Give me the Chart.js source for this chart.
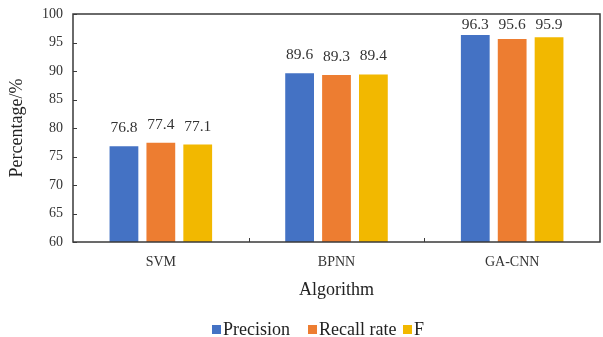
<!DOCTYPE html>
<html><head><meta charset="utf-8">
<script src="https://cdn.jsdelivr.net/npm/chart.js@4/dist/chart.umd.min.js"></script>
<style>html,body{margin:0;padding:0;background:#fff}#w{width:603px;height:337px}</style>
</head><body><div id="w"><canvas id="c"></canvas></div>
<script>
const categories = ["SVM", "BPNN", "GA-CNN"];
const precision = [76.8, 89.6, 96.3];
const recallRate = [77.4, 89.3, 95.6];
const fScore = [77.1, 89.4, 95.9];
const yTicks = [60, 65, 70, 75, 80, 85, 90, 95, 100];
const seriesNames = ["Precision", "Recall rate", "F"];
const colors = ["#4472C4", "#ED7D31", "#F2B800"];
const FONT = "'Liberation Serif','Times New Roman',serif";

const labelPlugin = {
  id: 'vals',
  afterDatasetsDraw(chart) {
    const ctx = chart.ctx, a = chart.chartArea;
    ctx.save();
    ctx.font = "15.5px " + FONT;
    ctx.fillStyle = "#333";
    ctx.textAlign = "center";
    ctx.textBaseline = "middle";
    chart.data.datasets.forEach((ds, i) => {
      chart.getDatasetMeta(i).data.forEach((bar, j) => {
        const y = Math.max(bar.y - 18, a.top + 11);
        ctx.fillText(ds.data[j].toFixed(1), bar.x, y);
      });
    });
    ctx.restore();
  }
};
const framePlugin = {
  id: 'frame',
  afterDraw(chart) {
    const ctx = chart.ctx, a = chart.chartArea;
    const ys = chart.scales.y, xs = chart.scales.x;
    ctx.save();
    ctx.strokeStyle = "#3a3a3a";
    ctx.lineWidth = 1.5;
    ctx.strokeRect(a.left, a.top, a.right - a.left, a.bottom - a.top);
    ctx.lineWidth = 1;
    ctx.beginPath();
    yTicks.forEach(v => {
      const y = Math.round(ys.getPixelForValue(v)) + 0.5;
      ctx.moveTo(a.left, y); ctx.lineTo(a.left + 4, y);
    });
    for (let k = 1; k < categories.length; k++) {
      const x = Math.round((xs.getPixelForValue(k - 1) + xs.getPixelForValue(k)) / 2) + 0.5;
      ctx.moveTo(x, a.bottom); ctx.lineTo(x, a.bottom - 4);
    }
    ctx.stroke();
    // x axis title
    ctx.fillStyle = "#222";
    ctx.font = "18px " + FONT;
    ctx.textAlign = "center";
    ctx.textBaseline = "middle";
    ctx.fillText("Algorithm", (a.left + a.right) / 2, 290);
    // legend
    const legendX = [212, 308, 403];
    ctx.textAlign = "left";
    seriesNames.forEach((n, i) => {
      ctx.fillStyle = colors[i];
      ctx.fillRect(legendX[i], 325, 9, 9);
      ctx.fillStyle = "#222";
      ctx.fillText(n, legendX[i] + 11, 330);
    });
    ctx.restore();
  }
};

new Chart(document.getElementById('c'), {
  type: 'bar',
  data: {
    labels: categories,
    datasets: [precision, recallRate, fScore].map((d, i) => ({
      label: seriesNames[i], data: d, backgroundColor: colors[i],
      categoryPercentage: 0.63, barPercentage: 0.78
    }))
  },
  options: {
    responsive: true, maintainAspectRatio: false, animation: false,
    layout: { padding: { top: 14, right: 3, left: 0, bottom: 0 } },
    plugins: {
      legend: { display: false },
      tooltip: { enabled: false }
    },
    scales: {
      x: {
        afterFit(s) { s.height = 95; s.paddingLeft = 0; s.paddingRight = 0; },
        grid: { display: false, drawTicks: false },
        border: { display: false },
        ticks: { font: { family: FONT, size: 14 }, color: "#333", padding: 12 }
      },
      y: {
        min: 60, max: 100,
        afterBuildTicks(s) { s.ticks = yTicks.map(v => ({ value: v })); },
        afterFit(s) { s.width = 73; s.paddingTop = 0; s.paddingBottom = 0; },
        grid: { display: false, drawTicks: false },
        border: { display: false },
        ticks: { font: { family: FONT, size: 14 }, color: "#333", padding: 10 },
        title: { display: true, text: "Percentage/%", font: { family: FONT, size: 18 }, color: "#222", padding: { top: 6, bottom: 0 } }
      }
    }
  },
  plugins: [labelPlugin, framePlugin]
});
</script></body></html>
